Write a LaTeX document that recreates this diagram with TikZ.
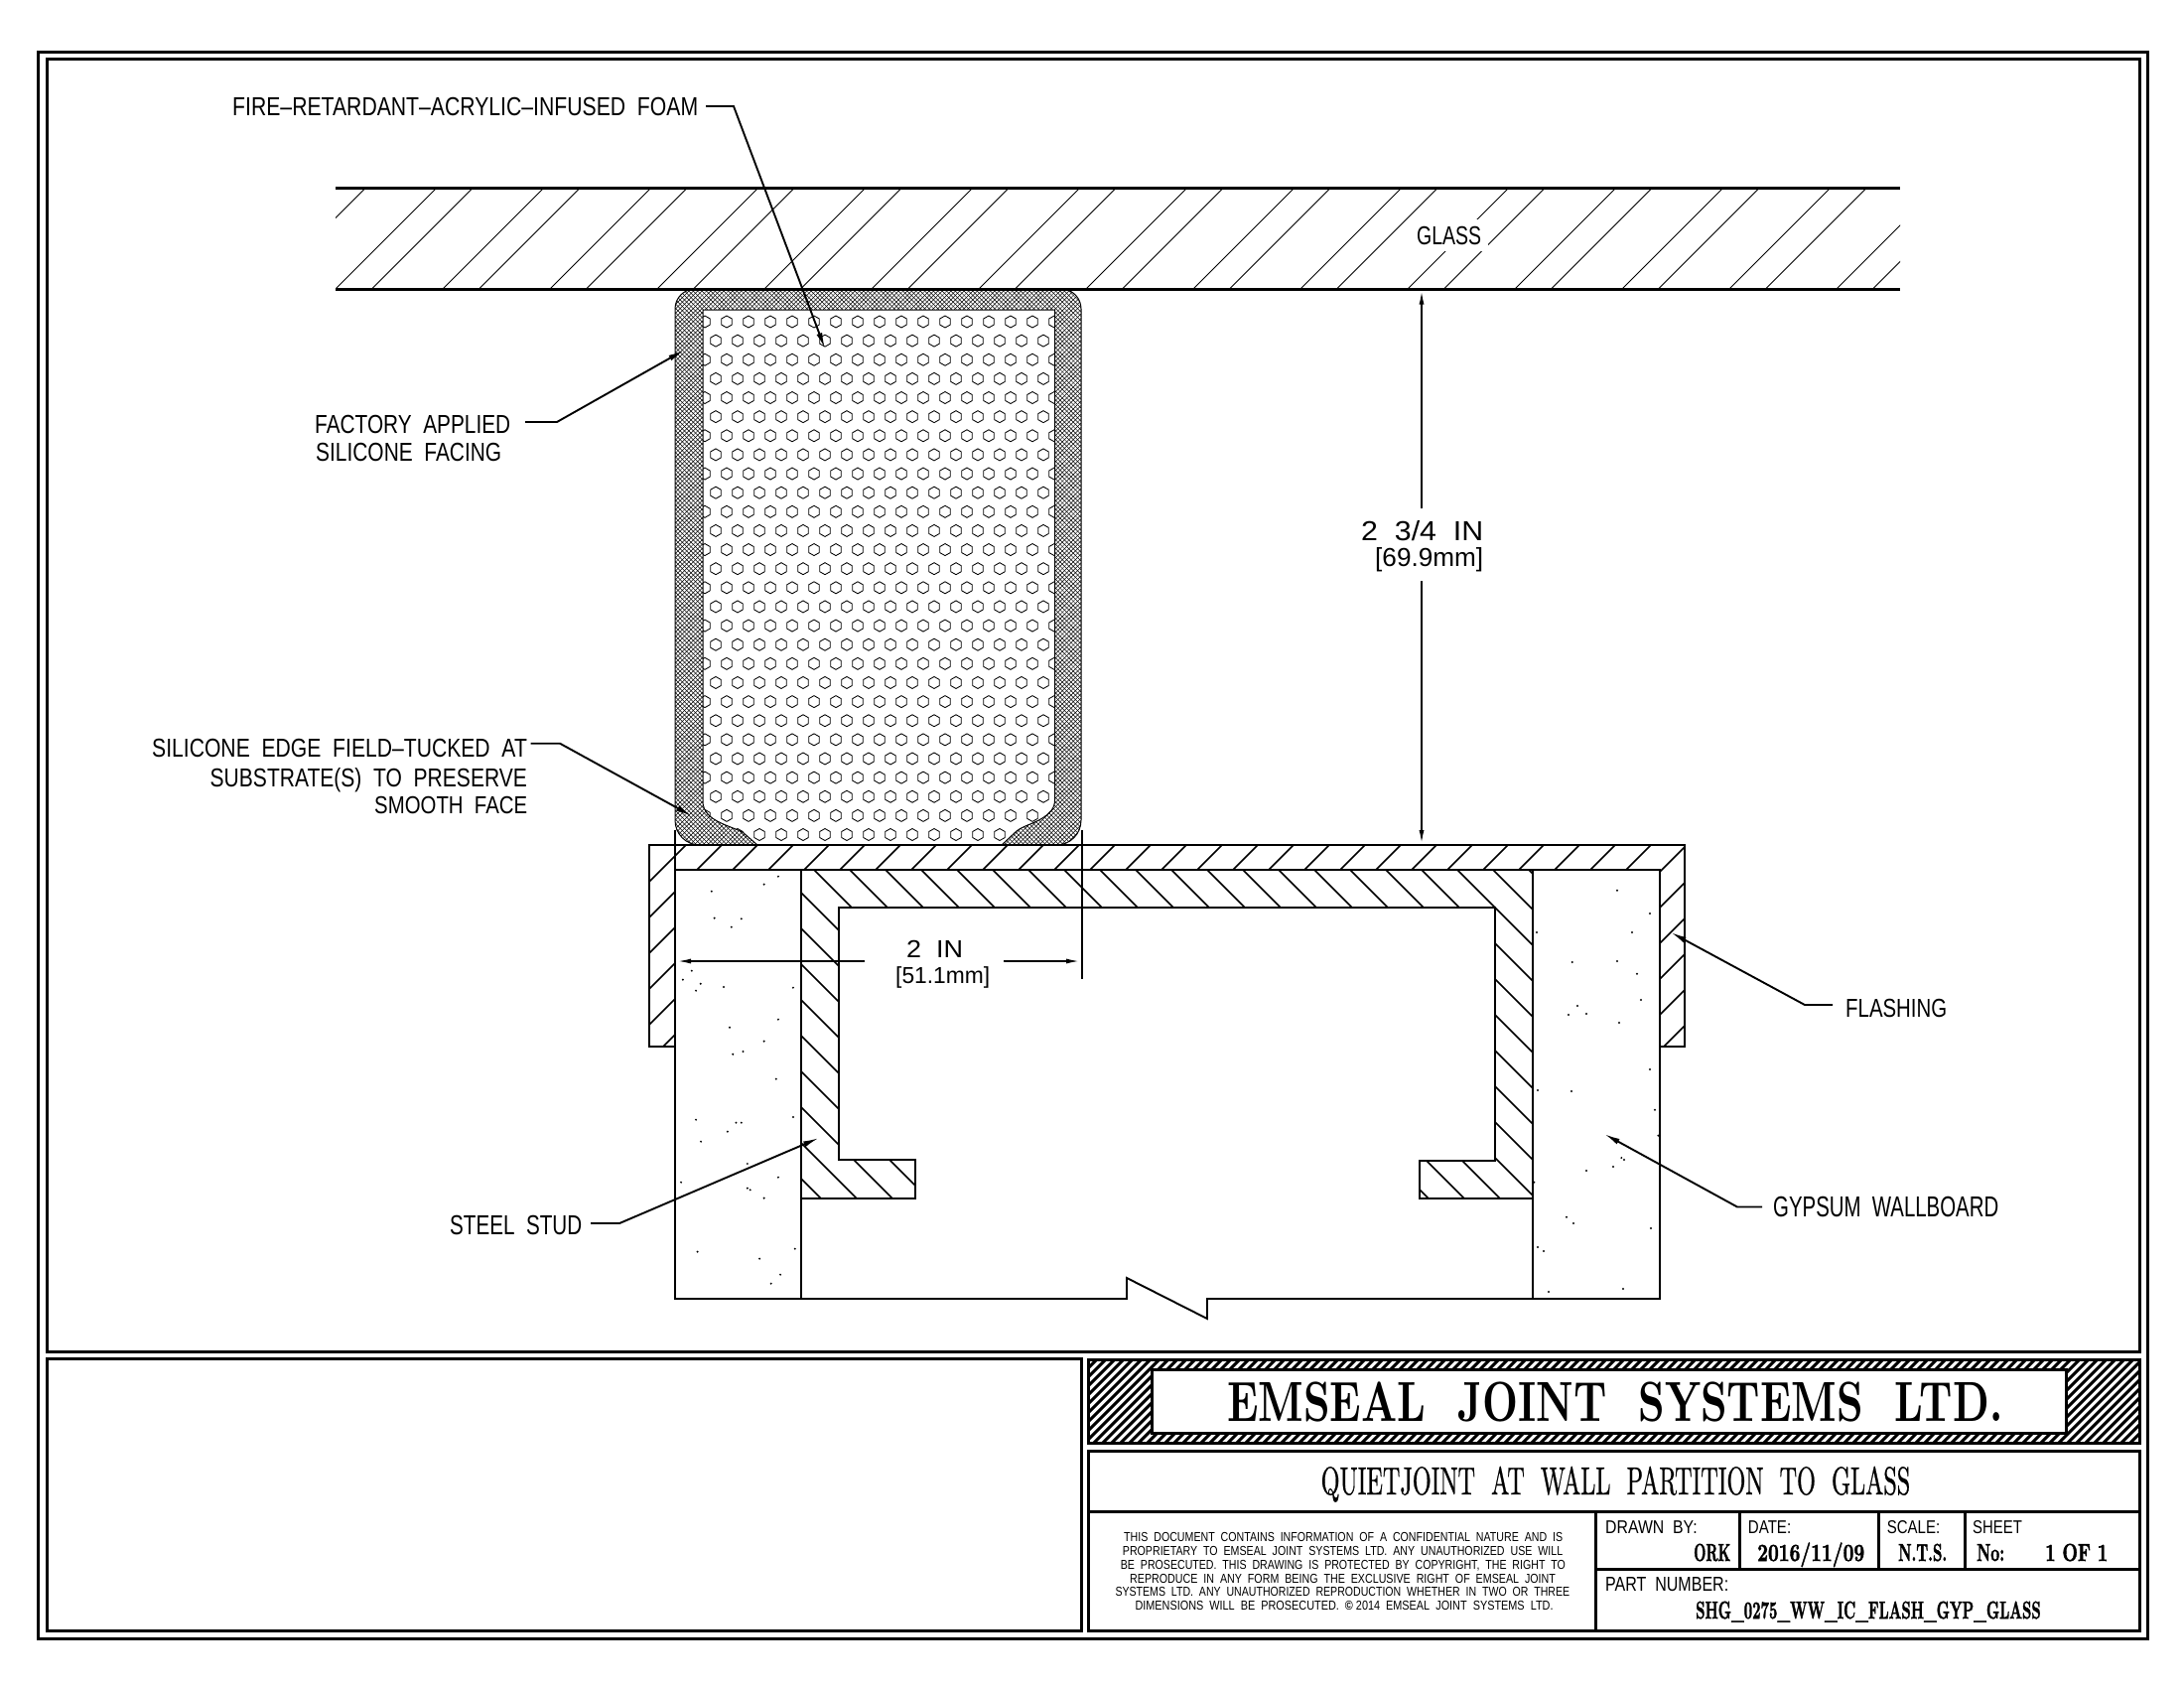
\documentclass[tikz,border=0pt]{standalone}
\usepackage{graphicx}
\usepackage{fontspec}
\setsansfont{Liberation Sans}
\newfontfamily\hvyf{Latin Modern Roman}[BoldFeatures={FakeBold=2}]
\newcommand\hvy{\hvyf\bfseries}
\newfontfamily\hvyt{Latin Modern Roman}[FakeBold=0.8]
\usetikzlibrary{arrows.meta}
\newlength\capH
\newcommand\tlabel[7][\sffamily]{%
  \pgfmathsetmacro\txW{#5-#3}\pgfmathsetmacro\txH{#6-#4}%
  \node[anchor=base west,inner sep=0pt] (#2) at (#3,#6)
    {\resizebox{\txW pt}{\txH pt}{#1\settoheight\capH{H}\raisebox{0pt}[\capH][0pt]{#7}}};}
\tikzset{
  frameline/.style={line width=3pt,line join=miter},
  partline/.style={line width=1.9pt,line join=miter},
  hatchline/.style={line width=1.7pt},
  glasshatch/.style={line width=0.8pt},
  meshline/.style={line width=0.5pt},
  hexline/.style={line width=0.85pt},
  thinline/.style={line width=1pt},
  leader/.style={line width=1.9pt,-{Latex[length=16pt,width=6pt]}},
  dimline/.style={line width=1.9pt},
  dimarrow/.style={line width=1.7pt,-{Latex[length=14pt,width=5pt]}},
  grain/.style={fill=black}
}
\def\outerpath{(680,311) .. controls (680,300) and (689,291) .. (700,291) -- (1069,291) .. controls (1080,291) and (1089,300) .. (1089,311) -- (1089,826) .. controls (1089,840) and (1078,851) .. (1064,851) -- (705,851) .. controls (691,851) and (680,840) .. (680,826) -- cycle}
\def\innerpath{(708,312) -- (1062.5,312) -- (1062.5,806) .. controls (1062.5,815) and (1056,820) .. (1050,824) .. controls (1040,830) and (1030,832) .. (1024,837) -- (1009,851) -- (763,851) -- (748,838) .. controls (735,832) and (725,830) .. (715,822) .. controls (709,816) and (708,812) .. (708,806) -- cycle}
\def\flashpath{(653.6,851) -- (1697,851) -- (1697,1054) -- (1672,1054) -- (1672,876) -- (680,876) -- (680,1054) -- (653.6,1054) -- cycle}
\def\studpath{(807,876) -- (1544,876) -- (1544,1207) -- (1430,1207) -- (1430,1169) -- (1506,1169) -- (1506,914) -- (845,914) -- (845,1168) -- (922,1168) -- (922,1207) -- (807,1207) -- cycle}
\begin{document}
\begin{tikzpicture}[x=1pt,y=-1pt]
\useasboundingbox (0,0) rectangle (2200,1700);
\fill[white] (0,0) rectangle (2200,1700);

% ---- frames
\draw[frameline] (38,52) rectangle (2163,1650);
\draw[frameline] (47,59) rectangle (2155,1361);
\draw[frameline] (47,1368) rectangle (1089,1642);
\draw[frameline] (1096,1461) rectangle (2155,1642);

% ---- glass
\begin{scope}
  \clip (338,189) rectangle (1914,291);
  \foreach \k in {-2,...,15}{
    \pgfmathsetmacro\xa{338+108*\k}
    \pgfmathsetmacro\xb{374.5+108*\k}
    \draw[glasshatch] (\xa,291) -- (\xa+102,189);
    \draw[glasshatch] (\xb,291) -- (\xb+102,189);
  }
  \fill[white] (1420,221) rectangle (1499,253);
\end{scope}
\draw[line width=3pt] (338,189.3) -- (1914,189.3);
\draw[line width=3pt] (338,291.3) -- (1914,291.3);

% ---- silicone facing
\begin{scope}
  \clip \outerpath;
  \foreach \k in {0,...,225}{
    \pgfmathsetmacro\c{-180+4.4*\k}
    \draw[meshline] (\c+285,285) -- (\c+860,860);
    \pgfmathsetmacro\d{965+4.4*\k}
    \draw[meshline] (\d-285,285) -- (\d-860,860);
  }
\end{scope}
\draw[thinline] \outerpath;
\fill[white] \innerpath;
% ---- foam
\begin{scope}
  \clip \innerpath;
  \foreach \r in {0,...,27}{
    \pgfmathsetmacro\yy{324+19.13*\r}
    \pgfmathsetmacro\xo{mod(\r,2)==0?710:721}
    \foreach \c in {0,...,16}{
      \pgfmathsetmacro\xx{\xo+22*\c}
      \draw[hexline] (\xx,\yy) +(0,-6) -- +(5.3,-3) -- +(5.3,3) -- +(0,6) -- +(-5.3,3) -- +(-5.3,-3) -- cycle;
    }
  }
\end{scope}
\draw[thinline] \innerpath;

% ---- wallboard
\draw[partline] (680,876) -- (680,1308) -- (1135,1308) -- (1135,1287) -- (1216,1328) -- (1216,1308) -- (1672,1308) -- (1672,876);
\draw[partline] (807,876) -- (807,1308);
\draw[partline] (1544,876) -- (1544,1308);
\foreach \a/\b in {459/368,419/392,271/413,279/494,355/496,327/521,215/653,190/680,240/692,227/713,305/702,501/704,459/800,322/824,419/866,360/897,331/905,453/980,227/1103,340/1112,355/1112,501/1095,316/1139,241/1169,372/1236,459/1277,185/1292,372/1310,380/1315,419/1340}
  \fill[grain] ({620+\a/2.8},{760+\b/3}) circle (1.1pt);
\foreach \a/\b in {185/782,405/773,325/803,372/851,351/878}
  \fill[grain] ({620+\a/2.24},{1000+\b/3}) circle (1.1pt);
\foreach \a/\b in {687/170,786/240,732/297,444/297,551/387,687/384,747/422,759/501,567/519,540/546,594/543,693/570,786/711,447/774,549/777,801/833,811/911,700/978,708/984,675/1005,594/1017,436/1052,534/1157,555/1176,789/1191,447/1248,465/1260,480/1383,705/1374}
  \fill[grain] ({1400+\a/3},{840+\b/3}) circle (1.1pt);

% ---- flashing
\begin{scope}
  \clip \flashpath;
  \foreach \k in {41,...,76}{
    \pgfmathsetmacro\cc{30+36*\k}
    \draw[hatchline] (\cc-840,840) -- (\cc-1070,1070);
  }
\end{scope}
\draw[partline] \flashpath;

% ---- steel stud
\begin{scope}
  \clip \studpath;
  \foreach \k in {-12,...,18}{
    \pgfmathsetmacro\cc{16+36*\k}
    \draw[hatchline] (\cc+870,870) -- (\cc+1215,1215);
  }
\end{scope}
\draw[partline] \studpath;

% ---- banner
\begin{scope}
  \clip (1096,1369) rectangle (2155,1453);
  \foreach \k in {0,...,128}{
    \pgfmathsetmacro\cc{2465+9*\k}
    \draw[line width=3pt] (\cc-1365,1365) -- (\cc-1457,1457);
  }
\end{scope}
\draw[frameline] (1096,1369) rectangle (2155,1453);
\draw[frameline,fill=white] (1160,1379) rectangle (2081,1443);

% ---- title block rules
\draw[frameline] (1096,1522) -- (2155,1522);
\draw[frameline] (1607.5,1522) -- (1607.5,1642);
\draw[frameline] (1607.5,1580) -- (2155,1580);
\draw[frameline] (1752,1522) -- (1752,1580);
\draw[frameline] (1892,1522) -- (1892,1580);
\draw[frameline] (1979.5,1522) -- (1979.5,1580);

% ---- labels
\tlabel{lfoam}{234}{98}{703}{116}{FIRE–RETARDANT–ACRYLIC–INFUSED~~FOAM}
\tlabel{lglass}{1427}{228}{1492}{246}{GLASS}
\tlabel{lfac}{317}{418}{514}{436}{FACTORY~~APPLIED}
\tlabel{lfacb}{318}{446}{505}{464}{SILICONE~~FACING}
\tlabel{ledgea}{153}{744}{530.7}{762}{SILICONE~~EDGE~~FIELD–TUCKED~~AT}
\tlabel{ledgeb}{211.5}{774}{530.7}{792}{SUBSTRATE(S)~~TO~~PRESERVE}
\tlabel{ledgec}{377}{802}{531}{819}{SMOOTH~~FACE}
\tlabel{ldima}{1371}{525}{1494}{544}{2~~3/4~~IN}
\tlabel{ldimb}{1385}{552}{1494}{570}{[69.9mm]}
\tlabel{ltwoa}{913}{947}{970}{964}{2~~IN}
\tlabel{ltwob}{902}{974}{997}{990}{[51.1mm]}
\tlabel{lflash}{1859}{1006}{1961}{1024}{FLASHING}
\tlabel{lgyp}{1786}{1205}{2013}{1225}{GYPSUM~~WALLBOARD}
\tlabel{lstud}{453}{1224}{586}{1243}{STEEL~~STUD}

% ---- title block text
\tlabel[\rmfamily\bfseries]{temseal}{1236}{1392}{2017}{1431}{EMSEAL~~JOINT~~SYSTEMS~~LTD.}
\tlabel[\hvyt]{tquiet}{1330.5}{1478}{1924}{1505}{QUIETJOINT~~AT~~WALL~~PARTITION~~TO~~GLASS}
\tlabel{tl1}{1132}{1543.3}{1574}{1552.3}{THIS~~DOCUMENT~~CONTAINS~~INFORMATION~~OF~~A~~CONFIDENTIAL~~NATURE~~AND~~IS}
\tlabel{tl2}{1130.7}{1557.3}{1574}{1566.3}{PROPRIETARY~~TO~~EMSEAL~~JOINT~~SYSTEMS~~LTD.~~ANY~~UNAUTHORIZED~~USE~~WILL}
\tlabel{tl3}{1128.7}{1571}{1576.7}{1580}{BE~~PROSECUTED.~~THIS~~DRAWING~~IS~~PROTECTED~~BY~~COPYRIGHT,~~THE~~RIGHT~~TO}
\tlabel{tl4}{1138}{1585}{1566.7}{1594}{REPRODUCE~~IN~~ANY~~FORM~~BEING~~THE~~EXCLUSIVE~~RIGHT~~OF~~EMSEAL~~JOINT}
\tlabel{tl5}{1123.3}{1598.7}{1581}{1607.7}{SYSTEMS~~LTD.~~ANY~~UNAUTHORIZED~~REPRODUCTION~~WHETHER~~IN~~TWO~~OR~~THREE}
\tlabel{tl6}{1143.3}{1612.7}{1564.3}{1621.7}{DIMENSIONS~~WILL~~BE~~PROSECUTED.~~\textbf{©}~2014~~EMSEAL~~JOINT~~SYSTEMS~~LTD.}
\tlabel{tdrawn}{1617}{1531.5}{1709.5}{1544.3}{DRAWN~~BY:}
\tlabel{tdate}{1760.7}{1531.5}{1804}{1544.3}{DATE:}
\tlabel{tscale}{1900.7}{1531.5}{1954}{1544.3}{SCALE:}
\tlabel{tsheet}{1987}{1531.5}{2036.7}{1544.3}{SHEET}
\tlabel[\hvy]{tork}{1706}{1555}{1743}{1572}{ORK}
\tlabel[\hvy]{tdat}{1770}{1555}{1878}{1572}{2016/11/09}
\tlabel[\hvy]{tnts}{1912}{1555}{1961}{1572}{N.T.S.}
\tlabel[\hvy]{tno}{1991}{1555}{2019}{1572}{No:}
\tlabel[\hvy]{tof}{2060}{1555}{2123}{1572}{1~OF~1}
\tlabel{tpart}{1617}{1588}{1741}{1602}{PART~~NUMBER:}
\tlabel[\hvy]{tnum}{1708}{1613}{2055.5}{1630}{SHG\_0275\_WW\_IC\_FLASH\_GYP\_GLASS}

% ---- leaders
\coordinate (sfoam) at (711,107); \coordinate (bfoam) at (739,107); \coordinate (tfoam) at (831,351);
\draw[leader] (sfoam) -- (bfoam) -- (tfoam);
\coordinate (sfac) at (529,425); \coordinate (bfac) at (561,425); \coordinate (tfac) at (689,352.7);
\draw[leader] (sfac) -- (bfac) -- (tfac);
\coordinate (sedge) at (534.5,748.7); \coordinate (bedge) at (564,748.7); \coordinate (tedge) at (696.8,821.7);
\draw[leader] (sedge) -- (bedge) -- (tedge);
\coordinate (sflash) at (1846,1012); \coordinate (bflash) at (1818,1012); \coordinate (tflash) at (1683,939);
\draw[leader] (sflash) -- (bflash) -- (tflash);
\coordinate (sgyp) at (1775,1215.5); \coordinate (bgyp) at (1750,1215.5); \coordinate (tgyp) at (1616,1142);
\draw[leader] (sgyp) -- (bgyp) -- (tgyp);
\coordinate (sstud) at (595,1232); \coordinate (bstud) at (624,1232); \coordinate (tstud) at (825,1146);
\draw[leader] (sstud) -- (bstud) -- (tstud);

% ---- dimensions
\coordinate (va) at (1432,512); \coordinate (vat) at (1432,292.5);
\coordinate (vb) at (1432,585); \coordinate (vbt) at (1432,850);
\draw[dimarrow] (va) -- (vat);
\draw[dimarrow] (vb) -- (vbt);
\coordinate (ha) at (871,968); \coordinate (hat) at (682,968);
\coordinate (hb) at (1011,968); \coordinate (hbt) at (1088,968);
\draw[dimarrow] (ha) -- (hat);
\draw[dimarrow] (hb) -- (hbt);
\coordinate (ela) at (680,836); \coordinate (elb) at (680,876);
\coordinate (era) at (1089.6,836); \coordinate (erb) at (1089.6,986);
\draw[dimline] (ela) -- (elb);
\draw[dimline] (era) -- (erb);
\end{tikzpicture}
\end{document}
